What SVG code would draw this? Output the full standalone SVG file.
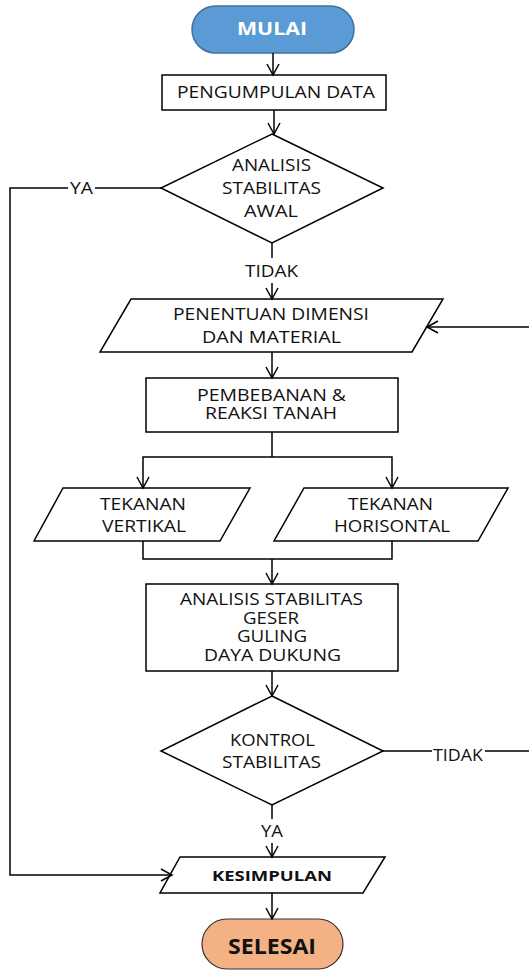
<svg xmlns="http://www.w3.org/2000/svg" width="529" height="973" viewBox="0 0 529 973">
<style>
.s{fill:#fff;stroke:#000;stroke-width:1.5}
.t{font-family:"Open Sans","DejaVu Sans",sans-serif;font-size:16px;fill:#111;text-anchor:middle}
.b{font-weight:bold}
.c{fill:none;stroke:#000;stroke-width:1.5}
</style>
<defs>
<marker id="a" markerWidth="14" markerHeight="14" refX="12" refY="7" orient="auto" markerUnits="userSpaceOnUse">
<path d="M1,1 L12,7 L1,13" fill="none" stroke="#000" stroke-width="1.5"/>
</marker>
</defs>
<g id="mulai"><rect x="192" y="6" width="162" height="47" rx="23.5" fill="#5B9BD5" stroke="#41719C" stroke-width="1.5"/><text x="272" y="35" class="t b" style="font-size:17px;fill:#fff" textLength="70" lengthAdjust="spacingAndGlyphs">MULAI</text></g>
<g id="pengumpulan"><rect x="162" y="75" width="224" height="35" class="s"/><text x="276" y="98.3" class="t" textLength="198" lengthAdjust="spacingAndGlyphs">PENGUMPULAN DATA</text></g>
<g id="analisis-awal"><polygon points="272,134 383,188 272,243 161,188" class="s"/><text x="271.5" y="171" class="t" textLength="79" lengthAdjust="spacingAndGlyphs">ANALISIS</text><text x="271.5" y="194" class="t" textLength="99" lengthAdjust="spacingAndGlyphs">STABILITAS</text><text x="271" y="217" class="t" textLength="54" lengthAdjust="spacingAndGlyphs">AWAL</text></g>
<g id="penentuan"><polygon points="131,299 443,299 412,352 100,352" class="s"/><text x="271" y="320" class="t" textLength="196" lengthAdjust="spacingAndGlyphs">PENENTUAN DIMENSI</text><text x="271.5" y="343" class="t" textLength="139" lengthAdjust="spacingAndGlyphs">DAN MATERIAL</text></g>
<g id="pembebanan"><rect x="146" y="378" width="252" height="54" class="s"/><text x="271.5" y="401" class="t" textLength="149" lengthAdjust="spacingAndGlyphs">PEMBEBANAN &amp;</text><text x="271" y="419" class="t" textLength="132" lengthAdjust="spacingAndGlyphs">REAKSI TANAH</text></g>
<g id="vertikal"><polygon points="63,488 250,488 220,541 34,541" class="s"/><text x="143" y="510" class="t" textLength="86" lengthAdjust="spacingAndGlyphs">TEKANAN</text><text x="144" y="532" class="t" textLength="84" lengthAdjust="spacingAndGlyphs">VERTIKAL</text></g>
<g id="horisontal"><polygon points="304,488 508,488 478,541 274,541" class="s"/><text x="390.5" y="510" class="t" textLength="85" lengthAdjust="spacingAndGlyphs">TEKANAN</text><text x="392" y="532" class="t" textLength="116" lengthAdjust="spacingAndGlyphs">HORISONTAL</text></g>
<g id="analisis"><rect x="146" y="584" width="252" height="87" class="s"/><text x="271.5" y="605" class="t" textLength="183" lengthAdjust="spacingAndGlyphs">ANALISIS STABILITAS</text><text x="271" y="624" class="t" textLength="56" lengthAdjust="spacingAndGlyphs">GESER</text><text x="272" y="642" class="t" textLength="70" lengthAdjust="spacingAndGlyphs">GULING</text><text x="272.5" y="661" class="t" textLength="137" lengthAdjust="spacingAndGlyphs">DAYA DUKUNG</text></g>
<g id="kontrol"><polygon points="272,696 383,751 272,805 161,751" class="s"/><text x="272.5" y="745.5" class="t" textLength="85" lengthAdjust="spacingAndGlyphs">KONTROL</text><text x="271.5" y="768" class="t" textLength="99" lengthAdjust="spacingAndGlyphs">STABILITAS</text></g>
<g id="kesimpulan"><polygon points="180,857 385,857 363,893 160,893" class="s"/><text x="272" y="881" class="t b" style="font-size:15px" textLength="120" lengthAdjust="spacingAndGlyphs">KESIMPULAN</text></g>
<g id="selesai"><rect x="202" y="919" width="141" height="50" rx="25" fill="#F4B183" stroke="#333" stroke-width="1.2"/><text x="272" y="954" class="t b" style="font-size:22px" textLength="88" lengthAdjust="spacingAndGlyphs">SELESAI</text></g>
<g id="connectors">
<path d="M273,53 V75" class="c" marker-end="url(#a)"/>
<path d="M274,110 V134" class="c" marker-end="url(#a)"/>
<path d="M272,243 V258" class="c"/>
<path d="M272,283 V299" class="c" marker-end="url(#a)"/>
<path d="M272,352 V378" class="c" marker-end="url(#a)"/>
<path d="M272,432 V457" class="c"/>
<path d="M272,457 H143 V488" class="c" marker-end="url(#a)"/>
<path d="M272,457 H392 V488" class="c" marker-end="url(#a)"/>
<path d="M143,541 V559 H392 V541" class="c"/>
<path d="M272,559 V584" class="c" marker-end="url(#a)"/>
<path d="M272,671 V696" class="c" marker-end="url(#a)"/>
<path d="M272,805 V819" class="c"/>
<path d="M272,843 V857" class="c" marker-end="url(#a)"/>
<path d="M161,188 H95" class="c"/>
<path d="M68,188 H10 V875 H172" class="c" marker-end="url(#a)"/>
<path d="M383,751 H432 M485,751 H529" class="c"/>
<path d="M529,327 H427" class="c" marker-end="url(#a)"/>
<path d="M272,893 V919" class="c" marker-end="url(#a)"/>
<text x="81.5" y="194" class="t" textLength="23" lengthAdjust="spacingAndGlyphs">YA</text>
<text x="271.5" y="277" class="t" textLength="53" lengthAdjust="spacingAndGlyphs">TIDAK</text>
<text x="458" y="761" class="t" textLength="50" lengthAdjust="spacingAndGlyphs">TIDAK</text>
<text x="272" y="837" class="t" textLength="22" lengthAdjust="spacingAndGlyphs">YA</text>
</g>
</svg>
